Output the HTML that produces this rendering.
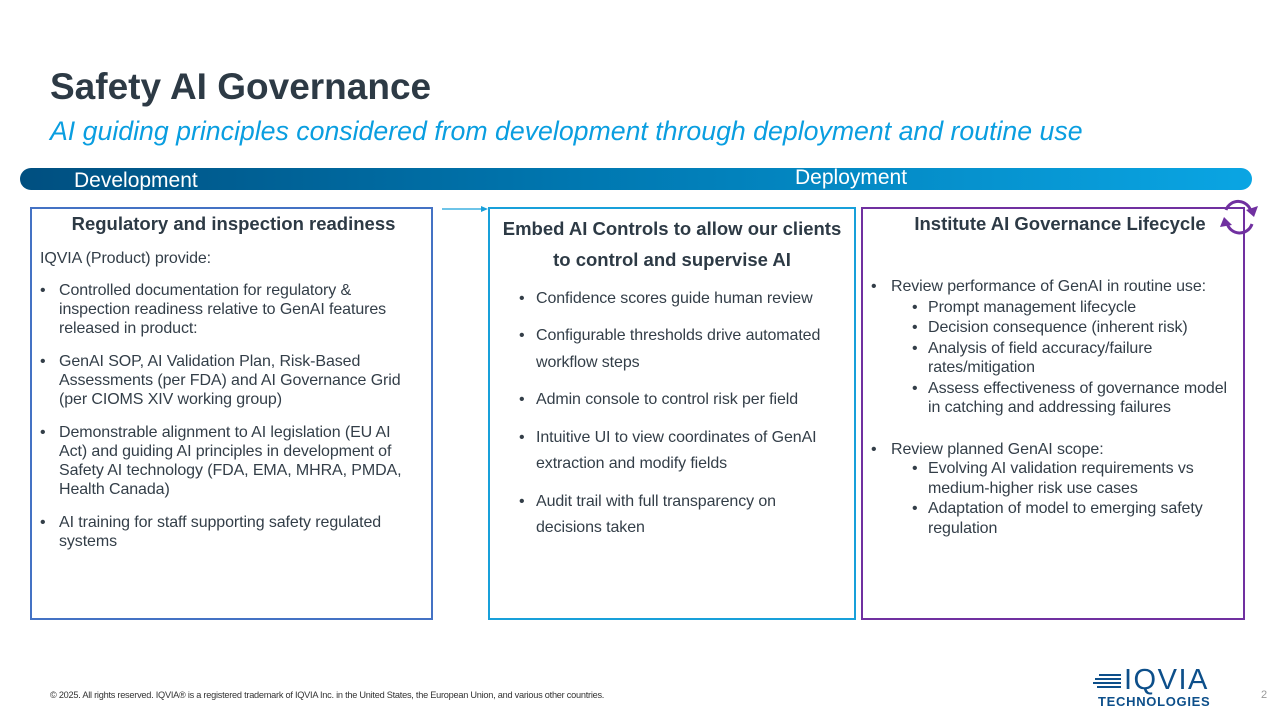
<!DOCTYPE html>
<html><head><meta charset="utf-8"><style>
*{margin:0;padding:0;box-sizing:border-box}
body{width:1280px;height:720px;background:#fff;position:relative;overflow:hidden;font-family:"Liberation Sans",Arial,sans-serif;color:#333e48}
.a{position:absolute;white-space:nowrap}
.t{font-size:16px;line-height:18px;letter-spacing:-0.1px}
.box{position:absolute;border:2.5px solid}
.h{font-size:18.5px;font-weight:bold;color:#2d3a45}
</style></head><body>
<div class="a" style="left:50px;top:66px;font-size:37px;font-weight:bold;color:#2d3a45">Safety AI Governance</div>
<div class="a" style="left:50px;top:116px;font-size:26.7px;font-style:italic;color:#0a9ee0">AI guiding principles considered from development through deployment and routine use</div>
<div class="a" style="left:20px;top:168px;width:1232px;height:22px;border-radius:11px;background:linear-gradient(90deg,#004f80,#0077b0 45%,#0aa5e3)"></div>
<div class="a" style="left:74px;top:169px;font-size:21px;color:#fff">Development</div>
<div class="a" style="left:795px;top:166px;font-size:21px;color:#fff">Deployment</div>

<div class="box" style="left:30px;top:207px;width:403px;height:413px;border-color:#4472c4"></div>
<div class="box" style="left:488px;top:207px;width:368px;height:413px;border-color:#18a0da"></div>
<div class="box" style="left:861px;top:207px;width:384px;height:413px;border-color:#7030a0"></div>

<svg class="a" style="left:440px;top:202px" width="50" height="14"><line x1="2" y1="7" x2="42" y2="7" stroke="#18a0da" stroke-width="1.2"/><path d="M41 4 L48 7 L41 10Z" fill="#18a0da"/></svg>
<svg class="a" style="left:1218px;top:198px" width="42" height="40"><g fill="none" stroke="#7030a0" stroke-width="3"><path d="M8 12 A13 13 0 0 1 33 14"/><path d="M34 26 A13 13 0 0 1 9 25"/></g><path d="M28 12 L36 19 L40 8Z" fill="#7030a0"/><path d="M2 29 L6 19 L14 27Z" fill="#7030a0"/></svg>

<div class="a h" style="left:32px;width:403px;text-align:center;top:213px">Regulatory and inspection readiness</div>
<div class="a h" style="left:488px;width:368px;text-align:center;top:218px">Embed AI Controls to allow our clients</div>
<div class="a h" style="left:488px;width:368px;text-align:center;top:249px">to control and supervise AI</div>
<div class="a h" style="left:868px;width:384px;text-align:center;top:213px">Institute AI Governance Lifecycle</div>

<div class="a t" style="left:40px;top:250px">IQVIA (Product) provide:</div>
<div class="a t" style="left:40px;top:282px">•</div><div class="a t" style="left:59px;top:282px">Controlled documentation for regulatory &amp;</div>
<div class="a t" style="left:59px;top:301px">inspection readiness relative to GenAI features</div>
<div class="a t" style="left:59px;top:320px">released in product:</div>
<div class="a t" style="left:40px;top:353px">•</div><div class="a t" style="left:59px;top:353px">GenAI SOP, AI Validation Plan, Risk-Based</div>
<div class="a t" style="left:59px;top:372px">Assessments (per FDA) and AI Governance Grid</div>
<div class="a t" style="left:59px;top:391px">(per CIOMS XIV working group)</div>
<div class="a t" style="left:40px;top:424px">•</div><div class="a t" style="left:59px;top:424px">Demonstrable alignment to AI legislation (EU AI</div>
<div class="a t" style="left:59px;top:443px">Act) and guiding AI principles in development of</div>
<div class="a t" style="left:59px;top:462px">Safety AI technology (FDA, EMA, MHRA, PMDA,</div>
<div class="a t" style="left:59px;top:481px">Health Canada)</div>
<div class="a t" style="left:40px;top:514px">•</div><div class="a t" style="left:59px;top:514px">AI training for staff supporting safety regulated</div>
<div class="a t" style="left:59px;top:533px">systems</div>

<div class="a t" style="left:519px;top:290px">•</div><div class="a t" style="left:536px;top:290px">Confidence scores guide human review</div>
<div class="a t" style="left:519px;top:327px">•</div><div class="a t" style="left:536px;top:327px">Configurable thresholds drive automated</div>
<div class="a t" style="left:536px;top:354px">workflow steps</div>
<div class="a t" style="left:519px;top:391px">•</div><div class="a t" style="left:536px;top:391px">Admin console to control risk per field</div>
<div class="a t" style="left:519px;top:429px">•</div><div class="a t" style="left:536px;top:429px">Intuitive UI to view coordinates of GenAI</div>
<div class="a t" style="left:536px;top:455px">extraction and modify fields</div>
<div class="a t" style="left:519px;top:493px">•</div><div class="a t" style="left:536px;top:493px">Audit trail with full transparency on</div>
<div class="a t" style="left:536px;top:519px">decisions taken</div>

<div class="a t" style="left:871px;top:278px">•</div><div class="a t" style="left:891px;top:278px">Review performance of GenAI in routine use:</div>
<div class="a t" style="left:912px;top:299px">•</div><div class="a t" style="left:928px;top:299px">Prompt management lifecycle</div>
<div class="a t" style="left:912px;top:319px">•</div><div class="a t" style="left:928px;top:319px">Decision consequence (inherent risk)</div>
<div class="a t" style="left:912px;top:340px">•</div><div class="a t" style="left:928px;top:340px">Analysis of field accuracy/failure</div>
<div class="a t" style="left:928px;top:359px">rates/mitigation</div>
<div class="a t" style="left:912px;top:380px">•</div><div class="a t" style="left:928px;top:380px">Assess effectiveness of governance model</div>
<div class="a t" style="left:928px;top:399px">in catching and addressing failures</div>
<div class="a t" style="left:871px;top:441px">•</div><div class="a t" style="left:891px;top:441px">Review planned GenAI scope:</div>
<div class="a t" style="left:912px;top:460px">•</div><div class="a t" style="left:928px;top:460px">Evolving AI validation requirements vs</div>
<div class="a t" style="left:928px;top:480px">medium-higher risk use cases</div>
<div class="a t" style="left:912px;top:500px">•</div><div class="a t" style="left:928px;top:500px">Adaptation of model to emerging safety</div>
<div class="a t" style="left:928px;top:520px">regulation</div>

<div class="a" style="left:50px;top:690px;font-size:9.2px;letter-spacing:-0.25px;color:#333">© 2025. All rights reserved. IQVIA® is a registered trademark of IQVIA Inc. in the United States, the European Union, and various other countries.</div>
<svg class="a" style="left:1093px;top:673px" width="30" height="18"><g stroke="#0d4f8a" stroke-width="2"><line x1="6" y1="2" x2="28" y2="2"/><line x1="2" y1="6" x2="28" y2="6"/><line x1="0" y1="10" x2="28" y2="10"/><line x1="4" y1="14" x2="28" y2="14"/></g></svg>
<div class="a" style="left:1124px;top:665px;font-size:29px;letter-spacing:1.5px;color:#0d4f8a;line-height:30px">IQVIA</div>
<div class="a" style="left:1098px;top:694px;font-size:13px;font-weight:bold;letter-spacing:0.7px;color:#0d4f8a">TECHNOLOGIES</div>
<div class="a" style="left:1261px;top:689px;font-size:11px;color:#999">2</div>
</body></html>
